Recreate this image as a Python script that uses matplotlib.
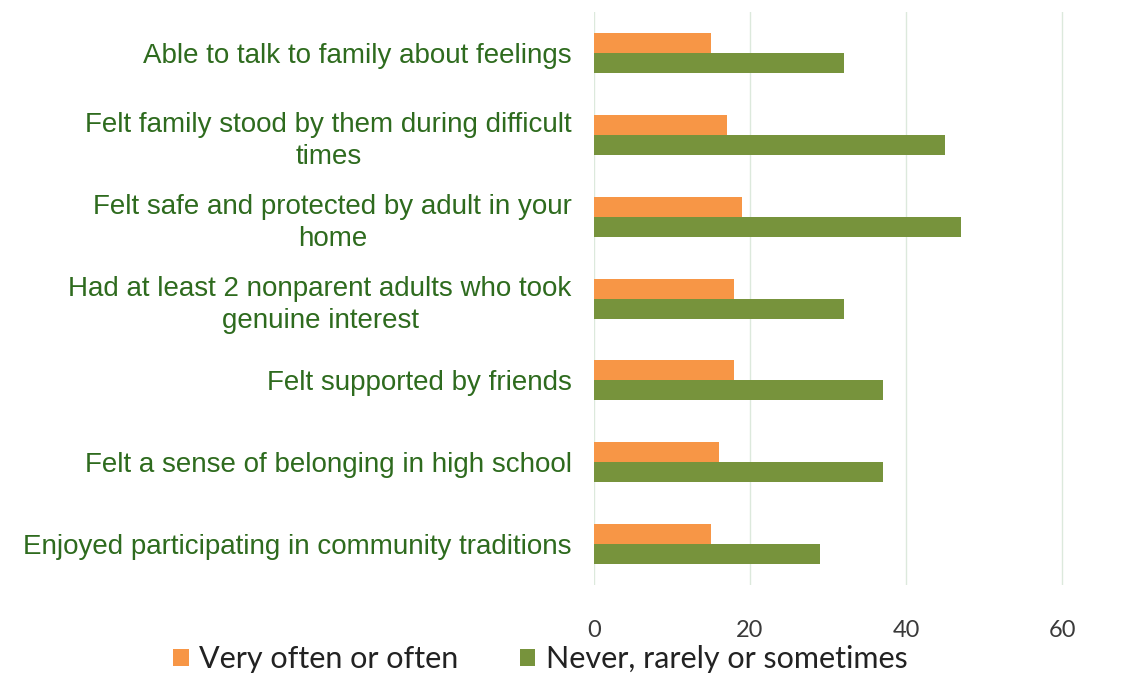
import matplotlib
matplotlib.use('Agg')
import matplotlib.pyplot as plt
import numpy as np

categories = ['Able to talk to family about feelings',
              'Felt family stood by them during difficult\ntimes',
              'Felt safe and protected by adult in your\nhome',
              'Had at least 2 nonparent adults who took\ngenuine interest',
              'Felt supported by friends',
              'Felt a sense of belonging in high school',
              'Enjoyed participating in community traditions']
often = [15, 17, 19, 18, 18, 16, 15]
never = [32, 45, 47, 32, 37, 37, 29]
xticks = [0, 20, 40, 60]

orange = '#F79646'
green = '#77933C'

fig = plt.figure(figsize=(11.28, 6.74), dpi=100)
ax = fig.add_axes([0.5266, 0.132, 0.4184, 0.85])

y = np.arange(len(categories))
h = 0.245
ax.barh(y - h/2, often, height=h, color=orange, label='Very often or often', zorder=3)
ax.barh(y + h/2, never, height=h, color=green, label='Never, rarely or sometimes', zorder=3)

ax.set_ylim(len(categories) - 0.5, -0.5)
ax.set_xlim(0, 60.5)
ax.set_xticks(xticks)
ax.set_xticklabels([str(t) for t in xticks], fontfamily='Lato', fontsize=17, color='#3a3a3a')
ax.set_yticks(y)
ax.set_yticklabels(categories, fontfamily='Liberation Sans', fontsize=20, color='#2E6B1E',
                   multialignment='center', linespacing=1.3)
ax.tick_params(axis='both', length=0)
ax.tick_params(axis='y', pad=16)
ax.tick_params(axis='x', pad=25)
ax.grid(axis='x', color='#DCE9DC', lw=1, zorder=0)
for s in ax.spines.values():
    s.set_visible(False)

fig.legend(loc='lower center', bbox_to_anchor=(0.479, -0.04), ncol=2, frameon=False,
           prop={'family': 'Lato', 'size': 22}, handlelength=0.5, handleheight=0.5,
           handletextpad=0.35, columnspacing=2.0, labelcolor='#222222')

fig.savefig('out.png', dpi=100)
